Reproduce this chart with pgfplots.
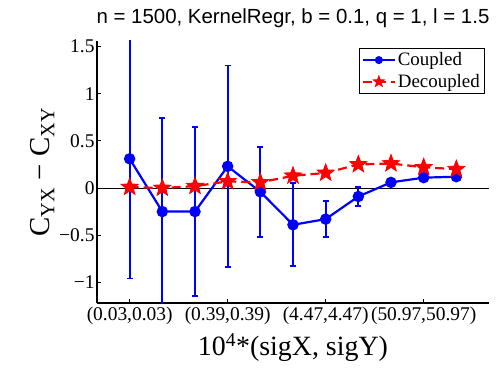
\documentclass[border=0pt]{standalone}
\usepackage{pgfplots}
\pgfplotsset{compat=1.18}
\usepackage{fontspec}
\setmainfont{Liberation Serif}
\newfontfamily\arialfont{Liberation Sans}
\usetikzlibrary{plotmarks}
\pgfdeclareplotmark{fstar}{%
  \pgfpathmoveto{\pgfpointpolar{90}{\pgfplotmarksize}}%
  \pgfpathlineto{\pgfpointpolar{126}{0.42\pgfplotmarksize}}%
  \pgfpathlineto{\pgfpointpolar{162}{\pgfplotmarksize}}%
  \pgfpathlineto{\pgfpointpolar{198}{0.42\pgfplotmarksize}}%
  \pgfpathlineto{\pgfpointpolar{234}{\pgfplotmarksize}}%
  \pgfpathlineto{\pgfpointpolar{270}{0.42\pgfplotmarksize}}%
  \pgfpathlineto{\pgfpointpolar{306}{\pgfplotmarksize}}%
  \pgfpathlineto{\pgfpointpolar{342}{0.42\pgfplotmarksize}}%
  \pgfpathlineto{\pgfpointpolar{18}{\pgfplotmarksize}}%
  \pgfpathlineto{\pgfpointpolar{54}{0.42\pgfplotmarksize}}%
  \pgfpathclose
  \pgfusepathqfillstroke
}
\begin{document}
\begin{tikzpicture}[x=1bp,y=1bp]
\useasboundingbox (-97bp,-67bp) rectangle (399bp,303bp);
\begin{axis}[
  scale only axis,
  width=392bp, height=262bp,
  xmin=-1, xmax=11,
  ymin=-1.22, ymax=1.56,
  axis x line*=bottom, axis y line*=left,
  axis line style={line width=1.4pt},
  xtick={0,3,6,9},
  xticklabels={(0.03,0.03),(0.39,0.39),(4.47,4.47),(50.97,50.97)},
  ytick={-1,-0.5,0,0.5,1,1.5},
  yticklabels={−1,−0.5,0,0.5,1,1.5},
  tick style={line width=1pt, black},
  major tick length=4bp,
  tick align=inside,
  ticklabel style={font=\fontsize{19.5}{20}\selectfont},
  xticklabel style={yshift=0bp},
  yticklabel style={xshift=1bp},
  xlabel={10\textsuperscript{4}*(sigX, sigY)},
  xlabel style={font=\fontsize{28}{30}\selectfont, yshift=-3bp},
  ylabel={C\textsubscript{YX} − C\textsubscript{XY}},
  ylabel style={font=\fontsize{29}{30}\selectfont, yshift=-2bp},
  title={\fontsize{20.5}{22}\selectfont\arialfont n = 1500, KernelRegr, b = 0.1, q = 1, l = 1.5},
  title style={at={(0.5,1)}, yshift=4bp},
  legend style={at={(0.99,0.975)}, anchor=north east, draw=black, line width=1.5pt,
    font=\fontsize{19}{21}\selectfont, inner sep=2.5bp, row sep=3bp},
  legend image code/.code={%
    \draw[mark repeat=2, mark phase=2, line width=2pt, every mark/.append style={scale=0.65}]
      plot coordinates {(0bp,0bp) (16bp,0bp) (32bp,0bp)};},
  legend cell align=left,
  clip=true,
]
\addplot[black, line width=0.6pt, forget plot] coordinates {(-1,0) (11,0)};
\addplot[blue, line width=2.2pt, mark=*, mark size=4.6bp, mark options={solid},
  error bars/.cd, y dir=both, y explicit,
  error bar style={line width=2.2pt, blue},
  error mark options={rotate=90, mark size=3bp, line width=2pt, blue}]
 coordinates {
  (0,0.31) +- (0,1.27)
  (1,-0.25) +- (0,0.99)
  (2,-0.25) +- (0,0.90)
  (3,0.23) +- (0,1.07)
  (4,-0.04) +- (0,0.48)
  (5,-0.39) +- (0,0.44)
  (6,-0.33) +- (0,0.19)
  (7,-0.09) +- (0,0.10)
  (8,0.06) +- (0,0.02)
  (9,0.11) +- (0,0.01)
  (10,0.12) +- (0,0.01)
 };
\addlegendentry{\fontsize{19}{21}\selectfont Coupled}
\addplot[red, line width=2.2pt, dash pattern=on 9bp off 5bp, mark=fstar, mark size=9bp,
  mark options={solid, fill=red, line width=0.8pt}]
 coordinates {
  (0,0.01) (1,0.00) (2,0.02) (3,0.07) (4,0.06) (5,0.13) (6,0.16) (7,0.25) (8,0.26) (9,0.22) (10,0.20)
 };
\addlegendentry{\fontsize{19}{21}\selectfont Decoupled}
\end{axis}
\end{tikzpicture}
\end{document}
